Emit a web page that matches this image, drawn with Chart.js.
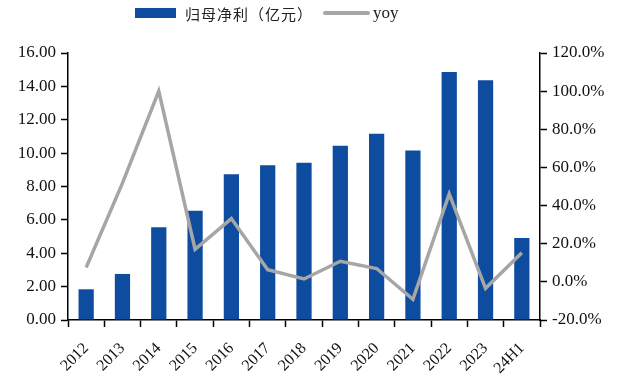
<!DOCTYPE html>
<html>
<head>
<meta charset="utf-8">
<script src="https://cdn.jsdelivr.net/npm/chart.js@4/dist/chart.umd.min.js"></script>
<style>
  html, body { margin: 0; padding: 0; background: #fff; }
  #wrap { position: relative; width: 620px; height: 380px; }
  #legend { position: absolute; top: 0; left: 135px; height: 26px; display: flex; align-items: center; }
  .item { display: flex; align-items: center; }
  .swatch-bar { width: 41px; height: 10px; margin-right: 9px; }
  .swatch-line { width: 47px; height: 4px; margin-left: 10px; margin-right: 3px; border-radius: 2px; }
  .txt-cn { font-family: "Noto Sans CJK SC", sans-serif; font-size: 15px; color: #222; letter-spacing: 1px; }
  .txt-en { font-family: "Liberation Serif", serif; font-size: 17px; color: #222; }
</style>
</head>
<body>
<div id="wrap">
  <canvas id="c" width="620" height="380"></canvas>
  <div id="legend"></div>
</div>
<script>
// Categories and series
const categories = ['2012','2013','2014','2015','2016','2017','2018','2019','2020','2021','2022','2023','24H1'];
const netProfit = [1.84, 2.76, 5.56, 6.54, 8.74, 9.28, 9.42, 10.44, 11.16, 10.16, 14.86, 14.36, 4.92];
const yoyPct = [7.5, 51.8, 100.0, 17.1, 33.2, 6.4, 1.5, 10.8, 7.0, -9.1, 46.1, -3.4, 15.3];
const leftTicks = [0, 2, 4, 6, 8, 10, 12, 14, 16];
const rightTicks = [-20, 0, 20, 40, 60, 80, 100, 120];
const seriesNames = ['归母净利（亿元）', 'yoy'];

const BAR_COLOR = '#0d4c9e';
const LINE_COLOR = '#a6a6a6';
const SERIF = '"Liberation Serif", "Times New Roman", serif';

const chart = new Chart(document.getElementById('c'), {
  data: {
    labels: categories,
    datasets: [
      {
        type: 'line',
        label: seriesNames[1],
        data: yoyPct,
        yAxisID: 'yR',
        borderColor: LINE_COLOR,
        borderWidth: 3.5,
        pointRadius: 0,
        tension: 0,
        order: 0
      },
      {
        type: 'bar',
        label: seriesNames[0],
        data: netProfit,
        yAxisID: 'yL',
        backgroundColor: BAR_COLOR,
        borderWidth: 0,
        categoryPercentage: 0.42,
        barPercentage: 1,
        order: 1
      }
    ]
  },
  options: {
    responsive: false,
    animation: false,
    layout: { padding: { top: 53, left: 0, right: 0, bottom: 0 } },
    plugins: { legend: { display: false }, tooltip: { enabled: false } },
    scales: {
      x: {
        offset: true,
        grid: { offset: true, drawOnChartArea: false, drawTicks: true, tickLength: 7, tickColor: '#000', tickWidth: 1.5 },
        border: { display: true, color: '#000', width: 1.5 },
        ticks: { color: '#111', font: { family: SERIF, size: 16 }, minRotation: 45, maxRotation: 45, padding: 12, autoSkip: false },
        afterFit(s) { s.height = 60; }
      },
      yL: {
        position: 'left',
        min: 0, max: 16,
        afterBuildTicks(s) { s.ticks = leftTicks.map(v => ({ value: v })); },
        grid: { drawOnChartArea: false, drawTicks: true, tickLength: 7, tickColor: '#000', tickWidth: 1.5 },
        border: { display: true, color: '#000', width: 1.5 },
        ticks: { color: '#111', font: { family: SERIF, size: 17 }, padding: 5, callback: v => Number(v).toFixed(2) },
        afterFit(s) { s.width = 68; }
      },
      yR: {
        position: 'right',
        min: -20, max: 120,
        afterBuildTicks(s) { s.ticks = rightTicks.map(v => ({ value: v })); },
        grid: { drawOnChartArea: false, drawTicks: true, tickLength: 7, tickColor: '#000', tickWidth: 1.5 },
        border: { display: true, color: '#000', width: 1.5 },
        ticks: { color: '#111', font: { family: SERIF, size: 17 }, padding: 5, callback: v => Number(v).toFixed(1) + '%' },
        afterFit(s) { s.width = 80; }
      }
    }
  }
});

// Legend built from the chart's datasets (bar first, then line)
const legend = document.getElementById('legend');
[1, 0].forEach(i => {
  const ds = chart.data.datasets[i];
  const item = document.createElement('div');
  item.className = 'item';
  const sw = document.createElement('span');
  const tx = document.createElement('span');
  if (ds.type === 'bar') {
    sw.className = 'swatch-bar';
    sw.style.background = ds.backgroundColor;
    tx.className = 'txt-cn';
  } else {
    sw.className = 'swatch-line';
    sw.style.background = ds.borderColor;
    tx.className = 'txt-en';
  }
  tx.textContent = ds.label;
  item.appendChild(sw);
  item.appendChild(tx);
  legend.appendChild(item);
});
</script>
</body>
</html>
